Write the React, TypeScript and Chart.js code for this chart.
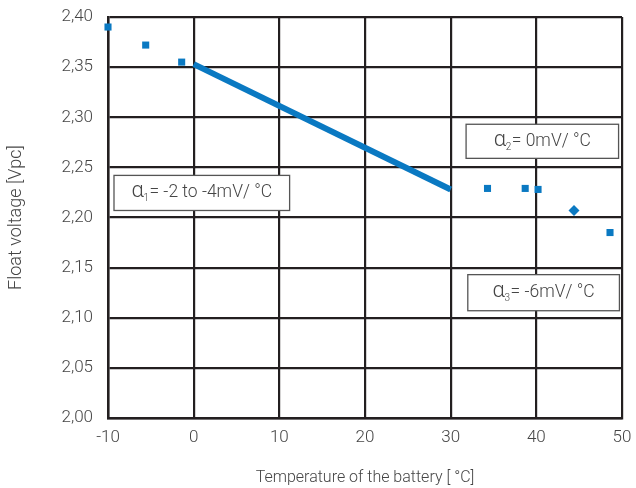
import React, { useEffect, useRef } from "react";
import { Chart, registerables } from "chart.js";

Chart.register(...registerables);

const xTicks = [-10, 0, 10, 20, 30, 40, 50];
const yTicks = [2.0, 2.05, 2.1, 2.15, 2.2, 2.25, 2.3, 2.35, 2.4];

// Measured points (squares)
const squareX = [-10, -5.6, -1.4, 34.3, 38.7, 40.2, 48.6];
const squareY = [2.39, 2.372, 2.355, 2.229, 2.229, 2.228, 2.185];
// Diamond point
const diamondX = [44.4];
const diamondY = [2.207];
// Linear segment (alpha 1)
const lineX = [0, 30];
const lineY = [2.353, 2.228];

const annotations = [
  { x0: -9.3, x1: 11.2, y0: 2.207, y1: 2.242, sub: "1", text: "= -2 to -4mV/ °C" },
  { x0: 31.8, x1: 49.6, y0: 2.259, y1: 2.293, sub: "2", text: "= 0mV/ °C" },
  { x0: 32.0, x1: 49.7, y0: 2.107, y1: 2.143, sub: "3", text: "= -6mV/ °C" },
];

const BLUE = "#0a79c2";
const TEXT = "#454545";
const FONT = "Roboto, 'Liberation Sans', sans-serif";

const boxPlugin = {
  id: "boxes",
  afterDatasetsDraw(chart: any) {
    const { ctx, scales } = chart;
    const xs = scales.x, ys = scales.y;
    ctx.save();
    annotations.forEach((a) => {
      const l = xs.getPixelForValue(a.x0);
      const r = xs.getPixelForValue(a.x1);
      const t = ys.getPixelForValue(a.y1);
      const b = ys.getPixelForValue(a.y0);
      ctx.fillStyle = "#ffffff";
      ctx.fillRect(l, t, r - l, b - t);
      ctx.strokeStyle = "#555555";
      ctx.lineWidth = 1.3;
      ctx.strokeRect(l, t, r - l, b - t);
      const cy = (t + b) / 2;
      ctx.fillStyle = TEXT;
      ctx.textBaseline = "middle";
      ctx.font = `300 22px ${FONT}`;
      const aw = ctx.measureText("α").width;
      ctx.font = `300 10px ${FONT}`;
      const sw = ctx.measureText(a.sub).width;
      ctx.font = `300 17.5px ${FONT}`;
      const tw = ctx.measureText(a.text).width;
      const total = aw + sw + tw;
      let x = (l + r) / 2 - total / 2;
      ctx.textAlign = "left";
      ctx.font = `300 22px ${FONT}`;
      ctx.fillText("α", x, cy - 1);
      x += aw - 0.5;
      ctx.font = `300 10px ${FONT}`;
      ctx.fillText(a.sub, x, cy + 6);
      x += sw + 0.5;
      ctx.font = `300 17.5px ${FONT}`;
      ctx.fillText(a.text, x, cy);
    });
    ctx.restore();
  },
};

export default function App() {
  const ref = useRef<HTMLCanvasElement>(null);
  useEffect(() => {
    const chart = new Chart(ref.current!, {
      type: "scatter",
      data: {
        datasets: [
          {
            type: "line",
            data: lineX.map((x, i) => ({ x, y: lineY[i] })),
            borderColor: BLUE,
            borderWidth: 6,
            pointRadius: 0,
            borderCapStyle: "butt",
          } as any,
          {
            data: squareX.map((x, i) => ({ x, y: squareY[i] })),
            pointStyle: "rect",
            pointRadius: 5,
            backgroundColor: BLUE,
            borderColor: BLUE,
            borderWidth: 0,
            clip: false,
          } as any,
          {
            data: diamondX.map((x, i) => ({ x, y: diamondY[i] })),
            pointStyle: "rectRot",
            pointRadius: 5.5,
            backgroundColor: BLUE,
            borderColor: BLUE,
            borderWidth: 0,
          },
        ],
      },
      options: {
        animation: false,
        responsive: true,
        maintainAspectRatio: false,
        layout: { padding: { top: 17, right: 14, left: 0, bottom: 0 } },
        plugins: { legend: { display: false }, tooltip: { enabled: false } },
        scales: {
          x: {
            type: "linear",
            min: -10,
            max: 50,
            afterBuildTicks: (s: any) => {
              s.ticks = xTicks.map((v) => ({ value: v }));
            },
            ticks: {
              color: TEXT,
              font: { family: FONT, size: 17, weight: 300 as any },
              padding: 10,
              maxRotation: 0,
              callback: (v: any) => String(v),
            },
            grid: { color: "#231f20", lineWidth: 2.2, drawTicks: false },
            border: { color: "#231f20", width: 2.5 },
            title: {
              display: true,
              text: "Temperature of the battery [ °C]",
              color: TEXT,
              font: { family: FONT, size: 16, weight: 300 as any },
              padding: { top: 0, bottom: 0 },
            },
            afterFit: (s: any) => {
              s.height = 70;
              s.paddingLeft = 0;
              s.paddingRight = 0;
            },
          },
          y: {
            type: "linear",
            min: 2.0,
            max: 2.4,
            afterBuildTicks: (s: any) => {
              s.ticks = yTicks.map((v) => ({ value: v }));
            },
            ticks: {
              color: TEXT,
              font: { family: FONT, size: 17, weight: 300 as any },
              padding: 15,
              callback: (v: any) => Number(v).toFixed(2).replace(".", ","),
            },
            grid: { color: "#231f20", lineWidth: 2.2, drawTicks: false },
            border: { color: "#231f20", width: 2.5 },
            title: {
              display: true,
              text: "Float voltage [Vpc]",
              color: TEXT,
              font: { family: FONT, size: 18, weight: 300 as any },
              padding: { top: 6, bottom: 0 },
            },
            afterFit: (s: any) => {
              s.width = 108;
              s.paddingTop = 0;
              s.paddingBottom = 0;
            },
          },
        },
      },
      plugins: [boxPlugin],
    });
    return () => chart.destroy();
  }, []);
  return (
    <div style={{ position: "fixed", left: 0, top: 0, width: 636, height: 488, background: "#fff" }}>
      <canvas ref={ref} />
    </div>
  );
}
